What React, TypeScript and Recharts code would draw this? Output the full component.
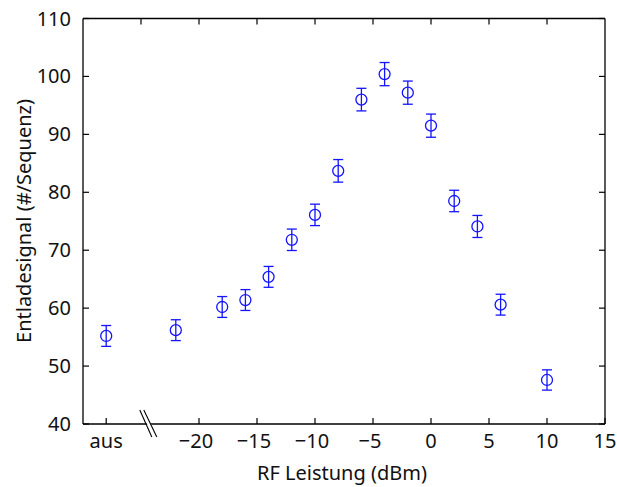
import React from 'react';
import { ScatterChart, Scatter, XAxis, YAxis, ErrorBar } from 'recharts';

// RF power in dBm; -28 is the "aus" (off) position left of the axis break
const rfPower = [-28, -22, -18, -16, -14, -12, -10, -8, -6, -4, -2, 0, 2, 4, 6, 10];
const signal = [55.2, 56.2, 60.2, 61.4, 65.4, 71.8, 76.1, 83.7, 96.0, 100.4, 97.2, 91.5, 78.5, 74.1, 60.6, 47.6];
const signalErr = [1.8, 1.8, 1.8, 1.8, 1.8, 1.85, 1.85, 1.95, 1.95, 2.0, 2.0, 2.0, 1.85, 1.9, 1.8, 1.75];

const OFF_X = -28;
const BREAK_X = -24.5;
const bottomTicks = [OFF_X, BREAK_X, -20, -15, -10, -5, 0, 5, 10, 15];
const topTicks = [-25, -20, -15, -10, -5, 0, 5, 10];
const yTicks = [40, 50, 60, 70, 80, 90, 100, 110];

const data = rfPower.map((x, i) => ({ x, y: signal[i], err: signalErr[i] }));

const FONT = '"Noto Sans", "Open Sans", sans-serif';
const BLUE = '#1414ff';
const TICK_LEN = 6;

const labelStyle: React.CSSProperties = {
  fontFamily: FONT,
  fontSize: 20,
  fill: '#111',
};

const BottomTick = (props: any) => {
  const { x, y, payload } = props;
  const v = payload.value;
  if (v === BREAK_X) {
    // axis break "//"
    return (
      <g>
        <polygon points={`${x - 6},${y - 14} ${x - 2},${y - 14} ${x + 10},${y + 13} ${x + 6},${y + 13}`} fill="#fff" />
        <line x1={x - 7} y1={y - 14} x2={x + 5} y2={y + 13} stroke="#000" strokeWidth={1.1} />
        <line x1={x - 3} y1={y - 14} x2={x + 10} y2={y + 13} stroke="#000" strokeWidth={1.1} />
      </g>
    );
  }
  const text = v === OFF_X ? 'aus' : v < 0 ? `\u2212${Math.abs(v)}` : `${v}`;
  return (
    <g>
      <line x1={x} y1={y} x2={x} y2={y - TICK_LEN} stroke="#000" strokeWidth={1.2} />
      <text x={v < 0 && v !== OFF_X ? x - 3 : x} y={y + 24} textAnchor="middle" style={labelStyle}>
        {text}
      </text>
    </g>
  );
};

const TopTick = (props: any) => {
  const { x, y } = props;
  return <line x1={x} y1={y} x2={x} y2={y + TICK_LEN} stroke="#000" strokeWidth={1.2} />;
};

const LeftTick = (props: any) => {
  const { x, y, payload } = props;
  return (
    <g>
      <line x1={x} y1={y} x2={x + TICK_LEN} y2={y} stroke="#000" strokeWidth={1.2} />
      <text x={x - 12} y={y + 7} textAnchor="end" style={labelStyle}>
        {payload.value}
      </text>
    </g>
  );
};

const RightTick = (props: any) => {
  const { x, y } = props;
  return <line x1={x} y1={y} x2={x - TICK_LEN} y2={y} stroke="#000" strokeWidth={1.2} />;
};

const Marker = (props: any) => {
  const { cx, cy } = props;
  return <circle cx={cx} cy={cy} r={5.5} fill="none" stroke={BLUE} strokeWidth={1.3} />;
};

export default function App() {
  return (
    <div style={{ position: 'absolute', left: 0, top: 0, background: '#fff' }}>
      <ScatterChart width={617} height={487} margin={{ top: 17.5, right: 11, bottom: 33, left: 23 }}>
        <XAxis
          xAxisId="bottom"
          type="number"
          dataKey="x"
          domain={[-30, 15]}
          ticks={bottomTicks}
          interval={0}
          tickSize={0}
          tickMargin={0}
          tickLine={false}
          tick={<BottomTick />}
          axisLine={{ stroke: '#000', strokeWidth: 1.3 }}
          height={30}
          label={{
            content: () => (
              <text x={342} y={480} textAnchor="middle" style={{ fontFamily: FONT, fontSize: 20, fill: '#111' }}>
                RF Leistung (dBm)
              </text>
            ),
          }}
        />
        <XAxis
          xAxisId="top"
          orientation="top"
          type="number"
          dataKey="x"
          domain={[-30, 15]}
          ticks={topTicks}
          interval={0}
          tickSize={0}
          tickMargin={0}
          tickLine={false}
          tick={<TopTick />}
          axisLine={{ stroke: '#000', strokeWidth: 1.3 }}
          height={1}
        />
        <YAxis
          yAxisId="left"
          type="number"
          dataKey="y"
          domain={[40, 110]}
          ticks={yTicks}
          interval={0}
          tickSize={0}
          tickMargin={0}
          tickLine={false}
          tick={<LeftTick />}
          axisLine={{ stroke: '#000', strokeWidth: 1.3 }}
          width={60}
          label={{
            content: () => (
              <text
                transform="rotate(-90)"
                x={-221}
                y={31}
                textAnchor="middle"
                style={{ fontFamily: FONT, fontSize: 20, fill: '#111' }}
              >
                Entladesignal (#/Sequenz)
              </text>
            ),
          }}
        />
        <YAxis
          yAxisId="right"
          orientation="right"
          type="number"
          dataKey="y"
          domain={[40, 110]}
          ticks={yTicks}
          interval={0}
          tickSize={0}
          tickMargin={0}
          tickLine={false}
          tick={<RightTick />}
          axisLine={{ stroke: '#000', strokeWidth: 1.3 }}
          width={1}
        />
        <Scatter data={data} xAxisId="bottom" yAxisId="left" shape={<Marker />} isAnimationActive={false}>
          <ErrorBar dataKey="err" direction="y" width={5} stroke={BLUE} strokeWidth={1.3} isAnimationActive={false} />
        </Scatter>
        {/* invisible series registering the mirrored axes */}
        <Scatter data={data} xAxisId="top" yAxisId="right" shape={() => null} isAnimationActive={false} />
      </ScatterChart>
    </div>
  );
}
